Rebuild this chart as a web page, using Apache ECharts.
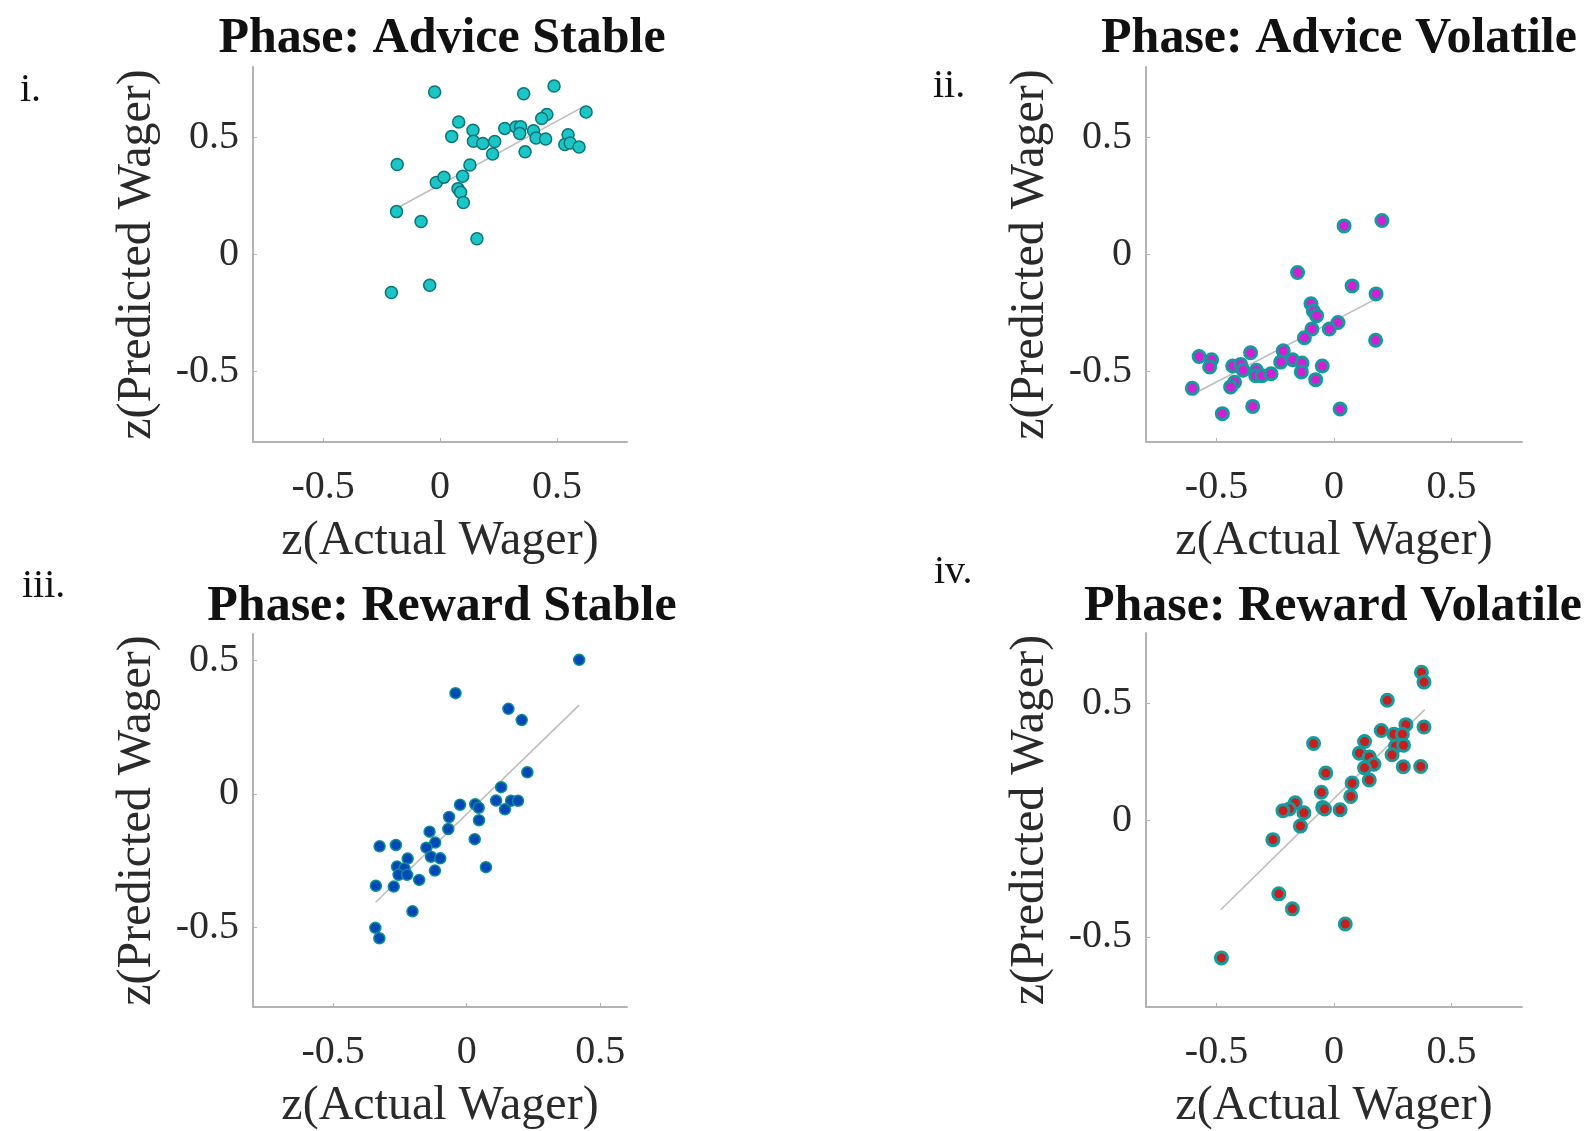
<!DOCTYPE html>
<html><head><meta charset="utf-8">
<script src="https://cdn.jsdelivr.net/npm/echarts@6/dist/echarts.min.js"></script>
<style>html,body{margin:0;padding:0;background:#fff}#c{width:1591px;height:1131px}</style>
</head><body><div id="c"></div>
<script>
// ---------- data ----------
const titles = ['Phase: Advice Stable', 'Phase: Advice Volatile', 'Phase: Reward Stable', 'Phase: Reward Volatile'];
const panelLabels = ['i.', 'ii.', 'iii.', 'iv.'];
const xName = 'z(Actual Wager)';
const yName = 'z(Predicted Wager)';
const tickValues = [-0.5, 0, 0.5];
const axisMin = [-0.8, -0.8, -0.8, -0.8];
const axisMax = [0.8, 0.8, 0.6, 0.8];

const adviceStableX = [-0.023, 0.488, 0.358, 0.625, 0.457, 0.435, 0.080, 0.141, 0.050, 0.277, 0.325, 0.345, 0.341, 0.400, 0.411, 0.452, 0.548, 0.534, 0.557, 0.595, 0.143, 0.183, 0.234, 0.364, 0.225, 0.128, -0.183, 0.097, -0.016, 0.017, 0.077, 0.088, 0.100, -0.186, -0.081, 0.158, -0.044, -0.208];
const adviceStableY = [0.693, 0.719, 0.686, 0.608, 0.597, 0.580, 0.565, 0.530, 0.504, 0.538, 0.544, 0.545, 0.516, 0.528, 0.497, 0.493, 0.511, 0.469, 0.476, 0.459, 0.483, 0.474, 0.482, 0.438, 0.429, 0.382, 0.384, 0.334, 0.307, 0.330, 0.281, 0.266, 0.222, 0.183, 0.141, 0.067, -0.131, -0.162];
const adviceStableFitX = [-0.171, 0.616];
const adviceStableFitY = [0.205, 0.632];

const adviceVolatileX = [0.204, 0.043, -0.155, 0.077, 0.179, -0.098, -0.088, -0.074, 0.017, -0.020, -0.094, -0.126, 0.177, -0.216, -0.355, -0.574, -0.521, -0.529, -0.431, -0.397, -0.387, -0.330, -0.333, -0.306, -0.268, -0.227, -0.176, -0.136, -0.139, -0.050, -0.078, -0.423, -0.440, -0.603, -0.346, -0.475, 0.026];
const adviceVolatileY = [0.145, 0.122, -0.077, -0.134, -0.168, -0.210, -0.241, -0.261, -0.290, -0.318, -0.318, -0.355, -0.366, -0.411, -0.419, -0.435, -0.449, -0.480, -0.476, -0.469, -0.494, -0.494, -0.517, -0.517, -0.509, -0.459, -0.449, -0.463, -0.501, -0.476, -0.534, -0.545, -0.565, -0.571, -0.648, -0.679, -0.659];
const adviceVolatileFitX = [-0.596, 0.187];
const adviceVolatileFitY = [-0.594, -0.185];

const rewardStableX = [0.421, -0.042, 0.156, 0.206, 0.227, 0.129, 0.110, 0.166, 0.192, 0.143, -0.025, 0.032, 0.045, 0.046, -0.066, -0.069, -0.139, 0.030, -0.118, -0.151, -0.326, -0.265, -0.134, -0.099, -0.221, -0.261, -0.233, 0.072, -0.119, -0.255, -0.223, -0.178, -0.340, -0.273, -0.203, -0.342, -0.327];
const rewardStableY = [0.503, 0.378, 0.319, 0.277, 0.081, 0.025, -0.025, -0.026, -0.026, -0.058, -0.041, -0.039, -0.052, -0.099, -0.087, -0.132, -0.142, -0.170, -0.183, -0.202, -0.197, -0.192, -0.236, -0.242, -0.243, -0.273, -0.280, -0.275, -0.288, -0.304, -0.304, -0.323, -0.345, -0.348, -0.441, -0.503, -0.542];
const rewardStableFitX = [-0.341, 0.421];
const rewardStableFitY = [-0.407, 0.333];

const rewardVolatileX = [0.372, 0.383, 0.227, 0.306, 0.383, 0.201, 0.255, 0.291, 0.130, -0.087, 0.262, 0.296, 0.108, 0.150, 0.247, 0.170, 0.130, 0.295, 0.369, -0.035, 0.150, 0.077, -0.054, 0.071, -0.165, -0.190, -0.217, -0.128, -0.048, -0.040, 0.026, -0.143, -0.260, -0.235, -0.177, 0.048, -0.479];
const rewardVolatileY = [0.632, 0.590, 0.512, 0.408, 0.398, 0.383, 0.367, 0.367, 0.336, 0.327, 0.316, 0.320, 0.286, 0.270, 0.279, 0.239, 0.223, 0.228, 0.229, 0.201, 0.171, 0.158, 0.119, 0.101, 0.074, 0.047, 0.040, 0.031, 0.054, 0.047, 0.044, -0.026, -0.084, -0.316, -0.380, -0.445, -0.590];
const rewardVolatileFitX = [-0.482, 0.386];
const rewardVolatileFitY = [-0.384, 0.472];

// ---------- layout / style ----------
const FONT = '"Liberation Serif", "Times New Roman", serif';
const grids = [
  {left: 253, top: 67, width: 374, height: 375},
  {left: 1146, top: 67, width: 376, height: 375},
  {left: 253, top: 634, width: 374, height: 374},
  {left: 1146, top: 633, width: 376, height: 375}
];
const markerStyles = [
  {size: 12, color: '#1cc6c6', border: '#0b7478', bw: 1.5},
  {size: 12, color: '#d41ed4', border: '#159a9c', bw: 3},
  {size: 11, color: '#0048b8', border: '#0a9090', bw: 1.5},
  {size: 12, color: '#c81e1e', border: '#179a9c', bw: 3}
];
const titlePos = [[437, 8], [1334, 8], [437, 576], [1328, 576]];
const labelPos = [[20, 70], [933, 66], [22, 566], [934, 552]];

const sets = [
  [adviceStableX, adviceStableY, adviceStableFitX, adviceStableFitY],
  [adviceVolatileX, adviceVolatileY, adviceVolatileFitX, adviceVolatileFitY],
  [rewardStableX, rewardStableY, rewardStableFitX, rewardStableFitY],
  [rewardVolatileX, rewardVolatileY, rewardVolatileFitX, rewardVolatileFitY]
];

function axisCommon(i, isX) {
  return {
    type: 'value', gridIndex: i, min: axisMin[i], max: axisMax[i],
    name: isX ? xName : yName, nameLocation: 'middle',
    nameGap: isX ? 75 : 92,
    nameTextStyle: {fontFamily: FONT, fontSize: 48, color: '#2a2a2a'},
    axisLine: {show: true, onZero: false, lineStyle: {color: '#b3b3b3', width: 2}},
    axisTick: {show: true, inside: true, length: 4, customValues: tickValues, lineStyle: {color: '#b3b3b3', width: 1}},
    axisLabel: {customValues: tickValues, fontFamily: FONT, fontSize: 40, color: '#2a2a2a', margin: isX ? 25 : 14,
      formatter: v => String(v)},
    splitLine: {show: false}
  };
}

const option = {
  animation: false,
  backgroundColor: '#ffffff',
  title: titles.map((t, i) => ({
    text: t, left: titlePos[i][0], top: titlePos[i][1], textAlign: 'center',
    textStyle: {fontFamily: FONT, fontWeight: 'bold', fontSize: 50, color: '#111', lineHeight: 52}
  })),
  grid: grids.map(g => Object.assign({containLabel: false}, g)),
  xAxis: grids.map((g, i) => axisCommon(i, true)),
  yAxis: grids.map((g, i) => axisCommon(i, false)),
  graphic: panelLabels.map((t, i) => ({
    type: 'text', left: labelPos[i][0], top: labelPos[i][1],
    style: {text: t, font: '40px ' + FONT, fill: '#111'}
  })),
  series: []
};

sets.forEach((s, i) => {
  const m = markerStyles[i];
  option.series.push({
    type: 'line', xAxisIndex: i, yAxisIndex: i, symbol: 'none', silent: true,
    data: s[2].map((x, k) => [x, s[3][k]]),
    lineStyle: {color: '#bdbdbd', width: 1.6}, z: 1
  });
  option.series.push({
    type: 'scatter', xAxisIndex: i, yAxisIndex: i,
    data: s[0].map((x, k) => [x, s[1][k]]),
    symbolSize: m.size,
    itemStyle: {color: m.color, borderColor: m.border, borderWidth: m.bw, opacity: 1}, z: 2
  });
});

const chart = echarts.init(document.getElementById('c'), null, {renderer: 'canvas'});
chart.setOption(option);
</script>
</body></html>
